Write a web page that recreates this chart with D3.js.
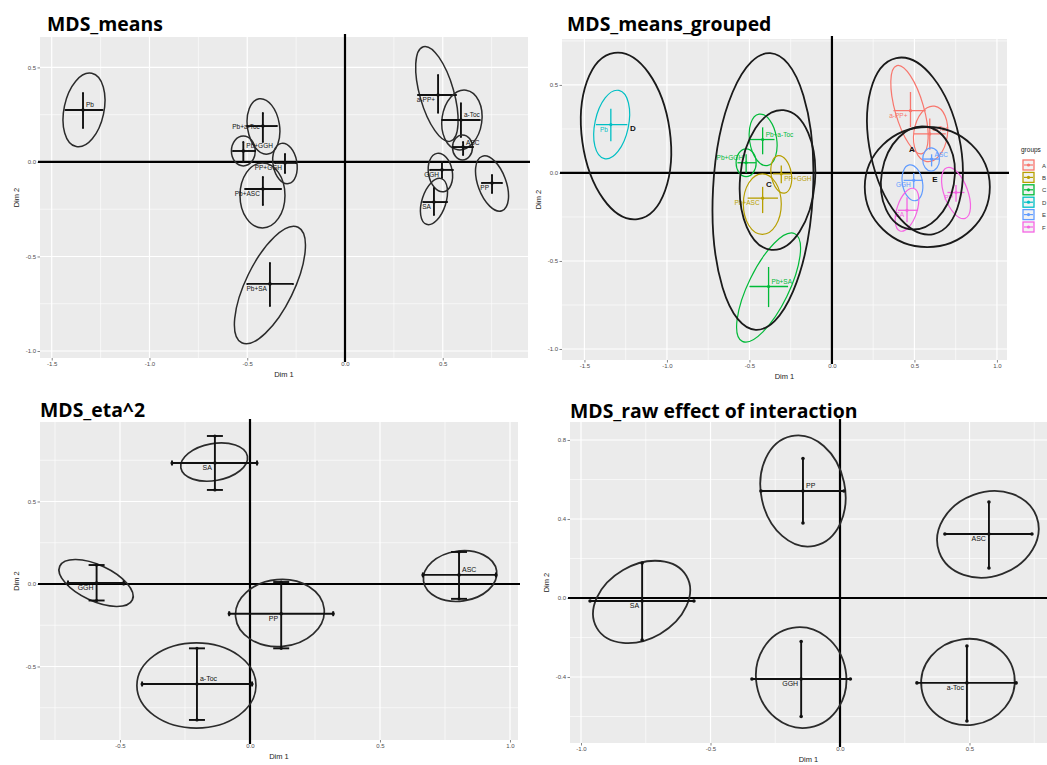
<!DOCTYPE html>
<html>
<head>
<meta charset="utf-8">
<script src="https://cdn.jsdelivr.net/npm/d3@7"></script>
<style>
  body { margin: 0; background: #fff; }
  svg { display: block; font-family: "Liberation Sans", Arial, sans-serif; }
  .title { font-family: "Open Sans", sans-serif; font-weight: 700; fill: #000; }
</style>
</head>
<body>
<svg id="chart" width="1047" height="765"></svg>
<script>
// ---- MDS_means / MDS_means_grouped (same items) ----
const meansLabels = ["Pb", "Pb+a-Toc", "Pb+GGH", "PP+GGH", "Pb+ASC", "Pb+SA", "a-PP+", "a-Toc", "ASC", "GGH", "SA", "PP"];
const meansGroup  = ["D", "C", "C", "B", "B", "C", "A", "A", "E", "E", "F", "F"];
const meansX   = [-1.34, -0.42, -0.52, -0.307, -0.42, -0.384, 0.476, 0.593, 0.604, 0.496, 0.455, 0.752];
const meansY   = [0.275, 0.19, 0.058, -0.005, -0.143, -0.645, 0.354, 0.222, 0.079, -0.042, -0.212, -0.111];
const meansXlo = [-1.43, -0.50, -0.573, -0.358, -0.511, -0.50, 0.373, 0.496, 0.552, 0.435, 0.40, 0.70];
const meansXhi = [-1.24, -0.348, -0.46, -0.25, -0.327, -0.266, 0.568, 0.69, 0.655, 0.552, 0.522, 0.803];
const meansYlo = [0.18, 0.106, 0.0, -0.058, -0.228, -0.762, 0.26, 0.132, 0.037, -0.085, -0.28, -0.164];
const meansYhi = [0.365, 0.259, 0.106, 0.042, -0.079, -0.534, 0.46, 0.31, 0.106, 0.0, -0.138, -0.069];
const meansEllX  = [-1.335, -0.417, -0.52, -0.307, -0.422, -0.384, 0.47, 0.598, 0.601, 0.488, 0.455, 0.752];
const meansEllY  = [0.275, 0.188, 0.058, -0.008, -0.177, -0.651, 0.36, 0.222, 0.077, -0.056, -0.209, -0.114];
const meansEllRx = [0.102, 0.082, 0.061, 0.061, 0.115, 0.123, 0.087, 0.102, 0.051, 0.061, 0.061, 0.072];
const meansEllRy = [0.198, 0.148, 0.079, 0.108, 0.172, 0.340, 0.260, 0.159, 0.066, 0.103, 0.127, 0.153];
const meansEllAngle = [12, -9, 0, -10, 0, 26, -16, 8, 0, -10, 18, -20];
const meansSide   = ["ra", "l", "ra", "lb", "lb", "lb", "lb", "ra", "ra", "lb", "lb", "lb"];
const groupedSide = ["lb", "ra", "la", "rb", "lb", "ra", "lb", "ra", "ra", "lb", "lb", "lb"];

// group ellipses of MDS_means_grouped
const groupNames = ["A", "B", "C", "D", "E", "F"];
const groupColors = ["#F8766D", "#B79F00", "#00BA38", "#00BFC4", "#619CFF", "#F564E3"];
const groupEllX  = [0.503, -0.33, -0.418, -1.248, 0.521, 0.578];
const groupEllY  = [0.153, -0.04, -0.105, 0.21, -0.028, -0.08];
const groupEllRx = [0.273, 0.227, 0.303, 0.267, 0.221, 0.379];
const groupEllRy = [0.511, 0.398, 0.787, 0.477, 0.295, 0.341];
const groupEllAngle = [-12, 5, 3, -8, 10, 0];
const groupMarkNames = ["A", "C", "D", "E"];
const groupMarkX = [0.485, -0.382, -1.206, 0.624];
const groupMarkY = [0.12, -0.08, 0.239, -0.05];

// ---- MDS_eta^2 ----
const etaLabels = ["SA", "GGH", "PP", "a-Toc", "ASC"];
const etaX   = [-0.135, -0.59, 0.12, -0.204, 0.804];
const etaY   = [0.733, 0.006, -0.18, -0.606, 0.055];
const etaXlo = [-0.30, -0.70, -0.08, -0.415, 0.665];
const etaXhi = [0.027, -0.486, 0.32, 0.008, 0.946];
const etaYlo = [0.57, -0.10, -0.39, -0.824, -0.09];
const etaYhi = [0.897, 0.115, 0.012, -0.39, 0.194];
const etaEllX  = [-0.138, -0.592, 0.115, -0.206, 0.808];
const etaEllY  = [0.739, 0.006, -0.176, -0.615, 0.048];
const etaEllRx = [0.13, 0.154, 0.171, 0.229, 0.142];
const etaEllRy = [0.112, 0.109, 0.203, 0.258, 0.152];
const etaEllAngle = [-10, 25, -5, 0, -8];
const etaSide = ["lb", "lb", "lb", "ra", "ra"];

// ---- MDS_raw effect of interaction ----
const rawLabels = ["PP", "ASC", "SA", "GGH", "a-Toc"];
const rawX   = [-0.143, 0.575, -0.764, -0.15, 0.49];
const rawY   = [0.542, 0.324, -0.015, -0.41, -0.43];
const rawXlo = [-0.305, 0.405, -0.965, -0.34, 0.297];
const rawXhi = [0.015, 0.741, -0.564, 0.04, 0.68];
const rawYlo = [0.38, 0.152, -0.213, -0.6, -0.623];
const rawYhi = [0.706, 0.486, 0.177, -0.22, -0.243];
const rawEllX  = [-0.143, 0.571, -0.766, -0.15, 0.494];
const rawEllY  = [0.542, 0.322, -0.02, -0.403, -0.425];
const rawEllRx = [0.162, 0.2, 0.2, 0.174, 0.181];
const rawEllRy = [0.284, 0.213, 0.187, 0.256, 0.218];
const rawEllAngle = [-12, -20, -30, -10, -8];
const rawSide = ["ra", "lb", "lb", "lb", "lb"];

// axis limits and ticks
const meansXDomain = [-1.56, 0.936],   meansYDomain = [-1.037, 0.661];
const groupedXDomain = [-1.636, 1.061], groupedYDomain = [-1.0625, 0.761];
const etaXDomain = [-0.8077, 1.0308],  etaYDomain = [-0.9455, 0.9818];
const rawXDomain = [-1.0425, 0.7992],  rawYDomain = [-0.7342, 0.8911];
const meansXTicks = [-1.5, -1, -0.5, 0, 0.5],      meansYTicks = [-1, -0.5, 0, 0.5];
const groupedXTicks = [-1.5, -1, -0.5, 0, 0.5, 1], groupedYTicks = [-1, -0.5, 0, 0.5];
const etaXTicks = [-0.5, 0, 0.5, 1],               etaYTicks = [-0.5, 0, 0.5];
const rawXTicks = [-1, -0.5, 0, 0.5],              rawYTicks = [-0.4, 0, 0.4, 0.8];

const svg = d3.select("#chart");
const fmt = v => d3.format(".1f")(v).replace("\u2212", "-");
const color = d3.scaleOrdinal().domain(groupNames).range(groupColors);

function minors(ticks, dom) {
  const step = ticks[1] - ticks[0], out = [];
  for (let v = ticks[0] - step / 2; v <= dom[1]; v += step) {
    if (v >= dom[0]) out.push(v);
  }
  return out;
}

function makePanel(frame, xDom, yDom, xTicks, yTicks) {
  const [x0, y0, x1, y1] = frame;
  const x = d3.scaleLinear().domain(xDom).range([x0, x1]);
  const y = d3.scaleLinear().domain(yDom).range([y1, y0]);
  const g = svg.append("g");
  g.append("rect").attr("x", x0).attr("y", y0)
    .attr("width", x1 - x0).attr("height", y1 - y0).attr("fill", "#EBEBEB");

  g.selectAll(".mx").data(minors(xTicks, xDom)).enter().append("line")
    .attr("x1", d => x(d)).attr("x2", d => x(d)).attr("y1", y0).attr("y2", y1)
    .attr("stroke", "#fff").attr("stroke-width", 0.6);
  g.selectAll(".my").data(minors(yTicks, yDom)).enter().append("line")
    .attr("y1", d => y(d)).attr("y2", d => y(d)).attr("x1", x0).attr("x2", x1)
    .attr("stroke", "#fff").attr("stroke-width", 0.6);
  g.selectAll(".gx").data(xTicks).enter().append("line")
    .attr("x1", d => x(d)).attr("x2", d => x(d)).attr("y1", y0).attr("y2", y1)
    .attr("stroke", "#fff").attr("stroke-width", 1.2);
  g.selectAll(".gy").data(yTicks).enter().append("line")
    .attr("y1", d => y(d)).attr("y2", d => y(d)).attr("x1", x0).attr("x2", x1)
    .attr("stroke", "#fff").attr("stroke-width", 1.2);

  const styleAxis = a => {
    a.select(".domain").remove();
    a.attr("font-size", 6).attr("font-family", "Liberation Sans, Arial, sans-serif");
    a.selectAll("text").attr("fill", "#4D4D4D");
    a.selectAll("line").attr("stroke", "#333").attr("stroke-width", 0.6);
  };
  g.append("g").attr("transform", `translate(0,${y1})`)
    .call(d3.axisBottom(x).tickValues(xTicks).tickSize(2.5).tickPadding(1.5).tickFormat(fmt))
    .call(styleAxis);
  g.append("g").attr("transform", `translate(${x0},0)`)
    .call(d3.axisLeft(y).tickValues(yTicks).tickSize(2.5).tickPadding(1.5).tickFormat(fmt))
    .call(styleAxis);

  g.append("text").attr("x", (x0 + x1) / 2).attr("y", y1 + 19)
    .attr("text-anchor", "middle").attr("font-size", 7.5).attr("fill", "#222").text("Dim 1");
  g.append("text").attr("transform", `translate(${x0 - 21},${(y0 + y1) / 2}) rotate(-90)`)
    .attr("text-anchor", "middle").attr("font-size", 7.5).attr("fill", "#222").text("Dim 2");

  // reference lines at 0
  g.append("line").attr("x1", x(0)).attr("x2", x(0)).attr("y1", y0 - 3).attr("y2", y1 + 4)
    .attr("stroke", "#000").attr("stroke-width", 2.2);
  g.append("line").attr("y1", y(0)).attr("y2", y(0)).attr("x1", x0 - 2).attr("x2", x1 + 2)
    .attr("stroke", "#000").attr("stroke-width", 2.2);
  return { g, x, y };
}

function ellipse(g, x, y, cx, cy, rx, ry, ang) {
  const px = x(cx), py = y(cy);
  return g.append("ellipse").attr("cx", px).attr("cy", py)
    .attr("rx", Math.abs(x(cx + rx) - px)).attr("ry", Math.abs(y(cy + ry) - py))
    .attr("transform", `rotate(${ang},${px},${py})`)
    .attr("fill", "none");
}

function rows(labels, xs, ys, xlo, xhi, ylo, yhi, ex, ey, erx, ery, ea, side) {
  return labels.map((l, i) => ({
    label: l, x: xs[i], y: ys[i], xlo: xlo[i], xhi: xhi[i], ylo: ylo[i], yhi: yhi[i],
    ex: ex[i], ey: ey[i], rx: erx[i], ry: ery[i], ang: ea[i], side: side[i]
  }));
}

function drawItems(p, data, o) {
  const { g, x, y } = p;
  data.forEach(d => {
    const c = o.color ? o.color(d) : "#111";
    ellipse(g, x, y, d.ex, d.ey, d.rx, d.ry, d.ang)
      .attr("stroke", o.color ? c : "#2b2b2b").attr("stroke-width", o.ellW);
    const cx = x(d.x), cy = y(d.y);
    g.append("line").attr("x1", x(d.xlo)).attr("x2", x(d.xhi)).attr("y1", cy).attr("y2", cy)
      .attr("stroke", c).attr("stroke-width", o.barW);
    g.append("line").attr("x1", cx).attr("x2", cx).attr("y1", y(d.ylo)).attr("y2", y(d.yhi))
      .attr("stroke", c).attr("stroke-width", o.barW);
    if (o.capV) {
      [d.ylo, d.yhi].forEach(v => g.append("line")
        .attr("x1", cx - o.capV).attr("x2", cx + o.capV).attr("y1", y(v)).attr("y2", y(v))
        .attr("stroke", c).attr("stroke-width", o.barW));
      [d.xlo, d.xhi].forEach(v => g.append("line")
        .attr("x1", x(v)).attr("x2", x(v)).attr("y1", cy - o.capH).attr("y2", cy + o.capH)
        .attr("stroke", c).attr("stroke-width", o.barW));
    }
    if (o.endDot) {
      [[x(d.xlo), cy], [x(d.xhi), cy], [cx, y(d.ylo)], [cx, y(d.yhi)]].forEach(([a, b]) =>
        g.append("circle").attr("cx", a).attr("cy", b).attr("r", o.endDot).attr("fill", c));
    }
    g.append("circle").attr("cx", cx).attr("cy", cy).attr("r", o.dot).attr("fill", c);

    const s = d.side;
    const right = s[0] === "r";
    const dy = s[1] === "a" ? -2.5 : s[1] === "b" ? 7 : 2.5;
    g.append("text").attr("x", cx + (right ? 3 : -3)).attr("y", cy + dy)
      .attr("text-anchor", right ? "start" : "end")
      .attr("font-size", o.font).attr("fill", c).text(d.label);
  });
}

// ---------- titles ----------
const titles = [["MDS_means", 47, 31], ["MDS_means_grouped", 567, 31],
                ["MDS_eta^2", 40, 417], ["MDS_raw effect of interaction", 570, 418]];
svg.selectAll(".title").data(titles).enter().append("text")
  .attr("class", "title").attr("x", d => d[1]).attr("y", d => d[2])
  .attr("font-size", 19.4).text(d => d[0]);

// ---------- panel 1 ----------
const p1 = makePanel([40, 37, 528, 358], meansXDomain, meansYDomain, meansXTicks, meansYTicks);
drawItems(p1, rows(meansLabels, meansX, meansY, meansXlo, meansXhi, meansYlo, meansYhi,
  meansEllX, meansEllY, meansEllRx, meansEllRy, meansEllAngle, meansSide),
  { ellW: 1.5, barW: 1.9, dot: 1.8, endDot: 1, font: 6.5 });

// ---------- panel 2 ----------
const p2 = makePanel([562, 39, 1007, 360], groupedXDomain, groupedYDomain, groupedXTicks, groupedYTicks);
const groupedRows = rows(meansLabels, meansX, meansY, meansXlo, meansXhi, meansYlo, meansYhi,
  meansEllX, meansEllY, meansEllRx, meansEllRy, meansEllAngle, groupedSide)
  .map((d, i) => Object.assign(d, { group: meansGroup[i] }));
drawItems(p2, groupedRows, { ellW: 1.2, barW: 1.3, dot: 1.6, font: 6.5, color: d => color(d.group) });
groupNames.forEach((n, i) => {
  ellipse(p2.g, p2.x, p2.y, groupEllX[i], groupEllY[i], groupEllRx[i], groupEllRy[i], groupEllAngle[i])
    .attr("stroke", "#1a1a1a").attr("stroke-width", 1.8);
});
groupMarkNames.forEach((n, i) => {
  p2.g.append("text").attr("x", p2.x(groupMarkX[i])).attr("y", p2.y(groupMarkY[i]))
    .attr("text-anchor", "middle").attr("font-size", 8).attr("font-weight", 700)
    .attr("fill", "#111").text(n);
});

// legend
const lg = svg.append("g").attr("transform", "translate(1021,152)");
lg.append("text").attr("x", 0).attr("y", 0).attr("font-size", 6.5).attr("fill", "#222").text("groups");
const key = lg.selectAll(".key").data(groupNames).enter().append("g")
  .attr("transform", (d, i) => `translate(0,${8 + i * 12.4})`);
key.append("rect").attr("x", 2).attr("y", 0).attr("width", 11).attr("height", 10)
  .attr("fill", "#F2F2F2").attr("stroke", d => color(d)).attr("stroke-width", 1.3);
key.append("line").attr("x1", 3).attr("x2", 12).attr("y1", 5).attr("y2", 5)
  .attr("stroke", d => color(d)).attr("stroke-width", 1.2);
key.append("circle").attr("cx", 7.5).attr("cy", 5).attr("r", 1.6).attr("fill", d => color(d));
key.append("text").attr("x", 21).attr("y", 7.5).attr("font-size", 6).attr("fill", "#333").text(d => d);

// ---------- panel 3 ----------
const p3 = makePanel([40, 422, 518, 740], etaXDomain, etaYDomain, etaXTicks, etaYTicks);
drawItems(p3, rows(etaLabels, etaX, etaY, etaXlo, etaXhi, etaYlo, etaYhi,
  etaEllX, etaEllY, etaEllRx, etaEllRy, etaEllAngle, etaSide),
  { ellW: 1.7, barW: 1.9, dot: 1.8, capV: 8, capH: 2.5, endDot: 1.6, font: 7 });

// ---------- panel 4 ----------
const p4 = makePanel([570, 422, 1047, 743], rawXDomain, rawYDomain, rawXTicks, rawYTicks);
drawItems(p4, rows(rawLabels, rawX, rawY, rawXlo, rawXhi, rawYlo, rawYhi,
  rawEllX, rawEllY, rawEllRx, rawEllRy, rawEllAngle, rawSide),
  { ellW: 1.8, barW: 1.9, dot: 1.8, endDot: 1.8, font: 7 });
</script>
</body>
</html>
